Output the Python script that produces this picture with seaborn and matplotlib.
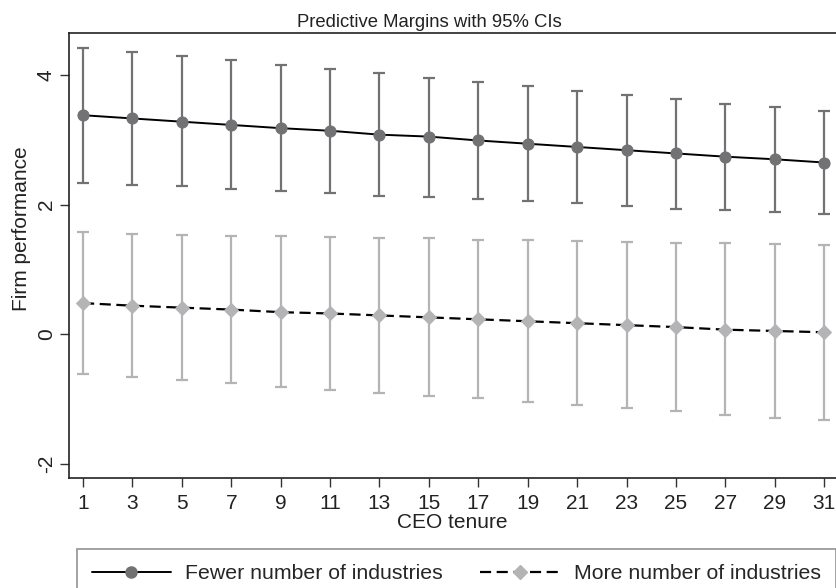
import matplotlib
matplotlib.use("Agg")
import matplotlib.pyplot as plt
import pandas as pd
import seaborn as sns
from matplotlib.lines import Line2D

# CEO tenure values on the x axis
tenure = [1, 3, 5, 7, 9, 11, 13, 15, 17, 19, 21, 23, 25, 27, 29, 31]

# Fewer number of industries: margin and 95% CI bounds
fewer_mean = [3.38, 3.33, 3.28, 3.23, 3.18, 3.14, 3.08, 3.05, 2.99, 2.94, 2.89, 2.84, 2.79, 2.74, 2.70, 2.65]
fewer_hi = [4.42, 4.35, 4.29, 4.23, 4.16, 4.09, 4.03, 3.95, 3.89, 3.83, 3.76, 3.69, 3.63, 3.56, 3.50, 3.44]
fewer_lo = [2.34, 2.31, 2.28, 2.24, 2.21, 2.18, 2.14, 2.11, 2.08, 2.05, 2.02, 1.98, 1.94, 1.91, 1.88, 1.85]

# More number of industries: margin and 95% CI bounds
more_mean = [0.48, 0.44, 0.41, 0.38, 0.34, 0.32, 0.29, 0.26, 0.23, 0.20, 0.17, 0.14, 0.11, 0.07, 0.05, 0.03]
more_hi = [1.57, 1.55, 1.53, 1.52, 1.51, 1.50, 1.48, 1.48, 1.46, 1.45, 1.44, 1.42, 1.40, 1.40, 1.39, 1.37]
more_lo = [-0.62, -0.66, -0.71, -0.76, -0.81, -0.86, -0.90, -0.95, -0.99, -1.04, -1.09, -1.14, -1.19, -1.24, -1.29, -1.33]

labels = ["Fewer number of industries", "More number of industries"]
y_ticks = [-2, 0, 2, 4]

dark_gray = "#727275"
light_gray = "#b4b4b6"
dash = [5, 2.5]

sns.set_style("ticks")
plt.rcParams["font.family"] = ["Liberation Sans", "DejaVu Sans"]

fewer = pd.DataFrame({"tenure": tenure, "margin": fewer_mean, "lo": fewer_lo, "hi": fewer_hi})
more = pd.DataFrame({"tenure": tenure, "margin": more_mean, "lo": more_lo, "hi": more_hi})

fig = plt.figure(figsize=(8.37, 5.88), dpi=100)
ax = fig.add_axes([0.0824, 0.187, 0.917, 0.757])

# confidence intervals
for df, col in [(fewer, dark_gray), (more, light_gray)]:
    ax.errorbar(df["tenure"], df["margin"],
                yerr=[df["margin"] - df["lo"], df["hi"] - df["margin"]],
                fmt="none", ecolor=col, elinewidth=1.6, capsize=4, capthick=1.6, zorder=1)

sns.lineplot(data=fewer, x="tenure", y="margin", ax=ax, color="black", linewidth=1.4,
             marker="o", markersize=8, markerfacecolor=dark_gray, markeredgecolor=dark_gray,
             zorder=3)
sns.lineplot(data=more, x="tenure", y="margin", ax=ax, color="black", linewidth=1.6,
             marker="D", markersize=7.5, markerfacecolor=light_gray, markeredgecolor=light_gray,
             zorder=3)
ax.lines[-1].set_dashes(dash)

ax.set_xlim(0.43, 31.5)
ax.set_ylim(-2.22, 4.65)
ax.set_xticks(tenure)
ax.set_yticks(y_ticks)
ax.set_yticklabels([str(v) for v in y_ticks], rotation=90, va="center")
ax.tick_params(axis="both", labelsize=15, length=6.5, width=1, color="#333333", labelcolor="#222222")
ax.tick_params(axis="x", pad=5)
ax.tick_params(axis="y", pad=3)

ax.set_xlabel("CEO tenure", fontsize=15, color="#222222", labelpad=0)
ax.set_ylabel("Firm performance", fontsize=15, color="#222222")
ax.yaxis.set_label_coords(-0.05, 0.56)
ax.set_title("Predictive Margins with 95% CIs", fontsize=13.3, color="#222222", pad=4, x=0.47)

for side in ["left", "bottom", "top"]:
    ax.spines[side].set_color("#222222")
    ax.spines[side].set_linewidth(1.2)
ax.spines["right"].set_visible(False)

handles = [
    Line2D([], [], color="black", linewidth=1.4, marker="o", markersize=8,
           markerfacecolor=dark_gray, markeredgecolor=dark_gray),
    Line2D([], [], color="black", linewidth=1.6, dashes=dash, marker="D", markersize=7.5,
           markerfacecolor=light_gray, markeredgecolor=light_gray),
]
leg = fig.legend(handles, labels, loc="upper left", bbox_to_anchor=(0.092, 0.066),
                 borderaxespad=0, ncol=2, fontsize=15.3, handlelength=3.7, columnspacing=1.75,
                 frameon=True, fancybox=False, borderpad=0.7, handletextpad=0.7)
leg.get_frame().set_edgecolor("#777777")
leg.get_frame().set_linewidth(1.2)

fig.savefig("out.png", dpi=100)
